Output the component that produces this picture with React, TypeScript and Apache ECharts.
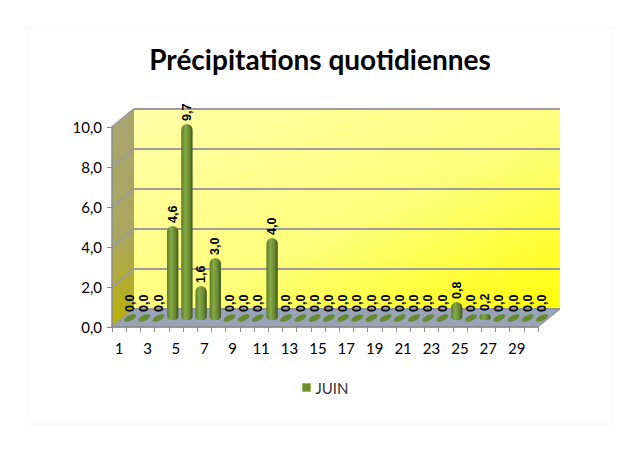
import React, { useEffect, useRef } from "react";
import * as echarts from "echarts";

const days = [
  "1", "2", "3", "4", "5", "6", "7", "8", "9", "10",
  "11", "12", "13", "14", "15", "16", "17", "18", "19", "20",
  "21", "22", "23", "24", "25", "26", "27", "28", "29", "30",
];
const rain = [
  0, 0, 0, 4.6, 9.7, 1.6, 3.0, 0, 0, 0,
  4.0, 0, 0, 0, 0, 0, 0, 0, 0, 0,
  0, 0, 0, 0.8, 0, 0.2, 0, 0, 0, 0,
];
const yTicks = [0, 2, 4, 6, 8, 10];

// 3D depth offset between front plane and back wall
const DX = 22;
const DY = -18;
const FRONT = { left: 112, top: 127, width: 426, height: 200 };

const fmt = (v: number) => v.toFixed(1).replace(".", ",");

const App: React.FC = () => {
  const chartRef = useRef<HTMLDivElement>(null);

  useEffect(() => {
    if (!chartRef.current) return;
    const chart = echarts.init(chartRef.current, undefined, { renderer: "svg" });

    const option: any = {
      animation: false,
      backgroundColor: "#ffffff",
      title: {
        text: "Précipitations quotidiennes",
        left: "center",
        top: 40,
        textStyle: { fontFamily: "Lato", fontWeight: "bold", fontSize: 28, color: "#000" },
      },
      legend: {
        data: ["JUIN"],
        left: 297,
        top: 375,
        icon: "rect",
        itemWidth: 8,
        itemHeight: 8,
        itemGap: 6,
        itemStyle: { color: "#6b8e2f", borderColor: "#9bbb59", borderWidth: 1 },
        textStyle: { fontFamily: "Lato", fontSize: 15, color: "#333" },
      },
      graphic: [
        {
          type: "rect",
          z: -10,
          shape: { x: 28, y: 28, width: 584, height: 396 },
          style: { fill: "#fff", stroke: "#f6f6f6", lineWidth: 1, shadowBlur: 4, shadowColor: "rgba(0,0,0,0.03)" },
        },
      ],
      grid: [
        { ...FRONT },
        {
          left: FRONT.left + DX,
          top: FRONT.top + DY,
          width: FRONT.width,
          height: FRONT.height,
          show: true,
          borderWidth: 0,
          backgroundColor: new echarts.graphic.LinearGradient(0, 0, 1, 1, [
            { offset: 0, color: "#ffffa8" },
            { offset: 0.55, color: "#ffff7c" },
            { offset: 1, color: "#ffff08" },
          ]),
        },
        { left: FRONT.left + DX / 2, top: FRONT.top + DY / 2, width: FRONT.width, height: FRONT.height },
      ],
      xAxis: [
        {
          gridIndex: 0,
          type: "category",
          data: days,
          z: 5,
          axisLine: { lineStyle: { color: "#8a8a8a", width: 1.5 } },
          axisTick: { show: true, interval: 0, length: 5, lineStyle: { color: "#8a8a8a" } },
          axisLabel: { interval: 1, margin: 13, fontFamily: "Lato", fontSize: 15, color: "#000" },
        },
        { gridIndex: 1, type: "category", data: days, show: false },
        { gridIndex: 2, type: "category", data: days, show: false },
      ],
      yAxis: [
        {
          gridIndex: 0,
          type: "value",
          min: 0,
          max: 10,
          interval: 2,
          z: 5,
          axisLine: { show: true, lineStyle: { color: "#8a8a8a", width: 1.5 } },
          axisTick: { show: true, length: 5, lineStyle: { color: "#8a8a8a" } },
          axisLabel: { margin: 10, fontFamily: "Lato", fontSize: 15, color: "#000", formatter: (v: number) => fmt(v) },
          splitLine: { show: false },
        },
        {
          gridIndex: 1,
          type: "value",
          min: 0,
          max: 10,
          interval: 2,
          axisLine: { show: false },
          axisTick: { show: false },
          axisLabel: { show: false },
          splitLine: { show: true, lineStyle: { color: "#9c9c9c", width: 2 } },
        },
        { gridIndex: 2, type: "value", min: 0, max: 10, interval: 2, show: false, splitLine: { show: false } },
      ],
      series: [
        {
          type: "custom",
          name: "decor",
          xAxisIndex: 0,
          yAxisIndex: 0,
          z: 1,
          silent: true,
          data: yTicks.map((v) => [0, v]),
          renderItem: (params: any, api: any) => {
            const cs = params.coordSys;
            const x0 = cs.x;
            const x1 = cs.x + cs.width;
            const yb = cs.y + cs.height;
            const yt = cs.y;
            const y = api.coord([0, api.value(1)])[1];
            const children: any[] = [];
            if (params.dataIndex === 0) {
              children.push({
                type: "polygon",
                shape: { points: [[x0, yt], [x0 + DX, yt + DY], [x0 + DX, yb + DY], [x0, yb]] },
                style: {
                  fill: new echarts.graphic.LinearGradient(0, 0, 0, 1, [
                    { offset: 0, color: "#a8a470" },
                    { offset: 0.6, color: "#aba65c" },
                    { offset: 1, color: "#bab100" },
                  ]),
                },
              });
              children.push({
                type: "polygon",
                shape: { points: [[x0, yb], [x1, yb], [x1 + DX, yb + DY], [x0 + DX, yb + DY]] },
                style: { fill: "#97a3b6", stroke: "#8c8c8c", lineWidth: 1 },
              });
            }
            children.push({
              type: "line",
              shape: { x1: x0, y1: y, x2: x0 + DX, y2: y + DY },
              style: { stroke: "#9c9c9c", lineWidth: 2 },
            });
            return { type: "group", children };
          },
        },
        {
          type: "custom",
          name: "JUIN",
          xAxisIndex: 2,
          yAxisIndex: 2,
          z: 3,
          itemStyle: { color: "#6b8e2f" },
          data: rain.map((v, i) => [i, v]),
          renderItem: (params: any, api: any) => {
            const i = api.value(0);
            const v = api.value(1);
            const base = api.coord([i, 0]);
            const top = api.coord([i, v]);
            const w = api.size([1, 0])[0] * 0.8;
            const cx = base[0];
            const fill = new echarts.graphic.LinearGradient(0, 0, 1, 0, [
              { offset: 0, color: "#5b7b27" },
              { offset: 0.35, color: "#87a947" },
              { offset: 0.7, color: "#6a8b30" },
              { offset: 1, color: "#3e571a" },
            ]);
            let body: any;
            if (v === 0) {
              body = {
                type: "ellipse",
                x: cx,
                y: base[1],
                rotation: 0.45,
                shape: { cx: 0, cy: 0, rx: w / 2 + 0.8, ry: 2.7 },
                style: { fill: "#668a2c" },
              };
            } else {
              const h = base[1] - top[1] + 2;
              body = {
                type: "rect",
                shape: { x: cx - w / 2, y: top[1], width: w, height: h, r: [w / 2, w / 2, 4, 4] },
                style: { fill },
              };
            }
            const label = {
              type: "text",
              x: cx,
              y: top[1] - (v === 0 ? 6 : 3),
              rotation: Math.PI / 2,
              style: {
                text: fmt(v),
                fill: "#000",
                font: 'bold 12.5px "Liberation Sans"',
                align: "left",
                verticalAlign: "middle",
              },
            };
            return { type: "group", children: [body, label] };
          },
        },
      ],
    };

    chart.setOption(option);
    return () => {
      chart.dispose();
    };
  }, []);

  return <div ref={chartRef} style={{ position: "absolute", left: 0, top: 0, width: 640, height: 457 }} />;
};

export default App;
